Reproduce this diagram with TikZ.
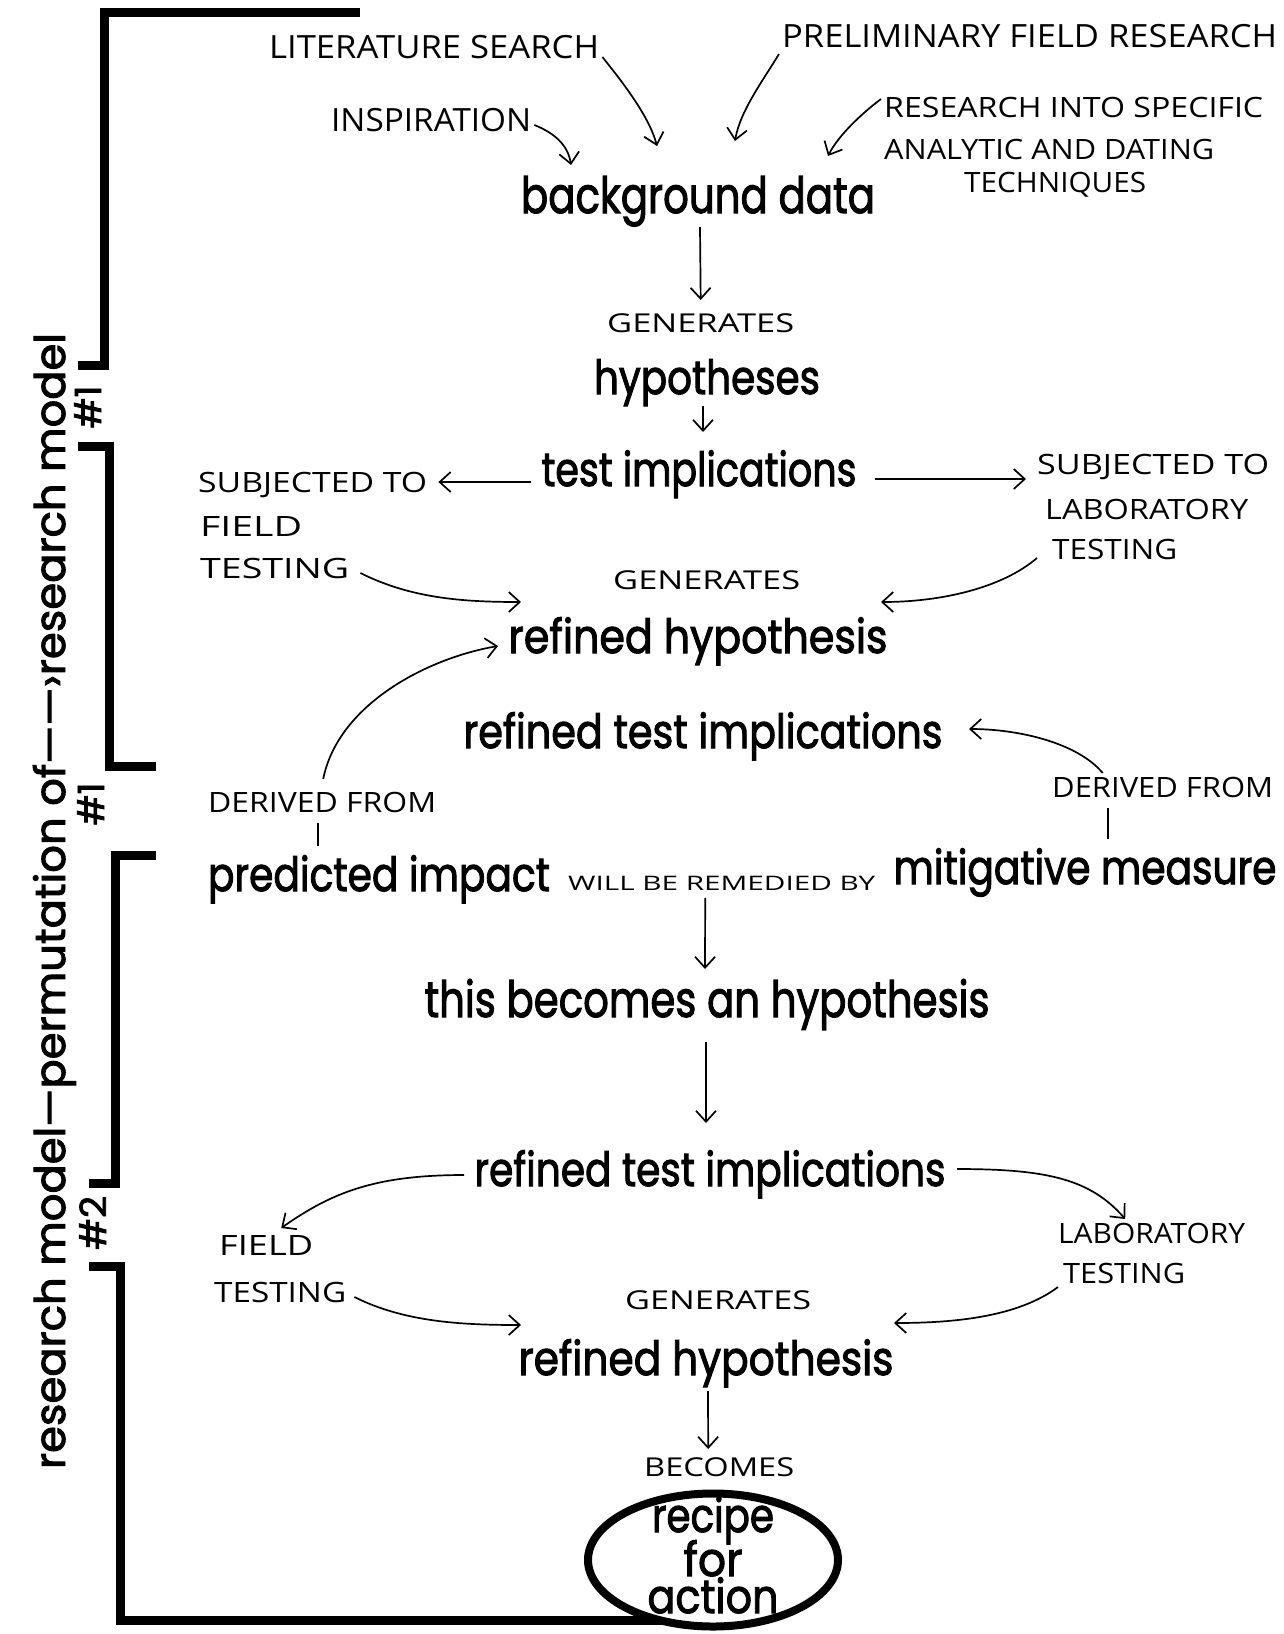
\documentclass[tikz,border=0pt]{standalone}
\usepackage{fontspec}
\usepackage{graphicx}
\usetikzlibrary{arrows.meta,calc,shapes.geometric}
\newfontfamily\mainf{Poppins}[FakeBold=2.2]
\newfontfamily\handf{Open Sans}
\newcommand{\fitw}[2]{\resizebox{#1pt}{\height}{#2}}
\tikzset{
  big/.style={font=\mainf\fontsize{47}{50}\selectfont, inner sep=0pt, anchor=base},
  bigL/.style={font=\mainf\fontsize{50}{52}\selectfont, inner sep=0pt, anchor=base},
  hand/.style={font=\handf\fontsize{28}{30}\selectfont, inner sep=0pt, anchor=west},
  handL/.style={font=\handf\fontsize{32}{34}\selectfont, inner sep=0pt, anchor=west},
  handS/.style={font=\handf\fontsize{26}{28}\selectfont, inner sep=0pt, anchor=west},
  handXS/.style={font=\handf\fontsize{20}{22}\selectfont, inner sep=0pt, anchor=west},
  side/.style={font=\mainf\fontsize{42}{44}\selectfont, inner sep=0pt, anchor=base, rotate=90},
  num/.style={font=\mainf\fontsize{36}{38}\selectfont, inner sep=0pt, anchor=base, rotate=90},
  arr/.style={line width=1.7pt, -{Straight Barb[length=11pt,width=20pt]}},
  tick/.style={line width=1.7pt},
  bracket/.style={line width=9pt, line join=miter, line cap=butt},
}
\begin{document}
\begin{tikzpicture}[x=1pt,y=-1pt]
\fill[white] (0,0) rectangle (1284,1634);
\useasboundingbox (0,0) rectangle (1284,1634);

% brackets
\draw[bracket] (360,12) -- (104,12) -- (104,365) -- (78,365);
\draw[bracket] (78,446) -- (109,446) -- (109,766) -- (156,766);
\draw[bracket] (156,855) -- (115,855) -- (115,1183) -- (89,1183);
\coordinate (recipeEnd) at (713,1620);
\draw[bracket] (89,1266) -- (120,1266) -- (120,1620) -- (recipeEnd);

% side labels
\node[side] (sidelabel) at (65,901) {\fitw{1136}{research model—permutation of——›research model}};
\node[num] (numA) at (101,407) {\fitw{43}{\#1}};
\node[num] (numB) at (104,804) {\fitw{43}{\#1}};
\node[num] (numC) at (106,1223) {\fitw{54}{\#2}};

% main texts
\node[bigL] (bg) at (698,213) {\fitw{354}{background data}};
\node[big] (hyp) at (707,394) {\fitw{226}{hypotheses}};
\node[big] (ti) at (699,486) {\fitw{315}{test implications}};
\node[big] (rh1) at (698,653) {\fitw{379}{refined hypothesis}};
\node[big] (rti1) at (703,748) {\fitw{479}{refined test implications}};
\node[big] (pi) at (379,891) {\fitw{342}{predicted impact}};
\node[big] (mm) at (1085,884) {\fitw{383}{mitigative measure}};
\node[bigL] (this) at (707,1017) {\fitw{565}{this becomes an hypothesis}};
\node[big] (rti2) at (710,1186) {\fitw{471}{refined test implications}};
\node[big] (rh2) at (706,1375) {\fitw{375}{refined hypothesis}};
\node[draw, ellipse, line width=8pt, fill=white, minimum width=250pt, minimum height=133pt,
      inner sep=0pt] (recipe) at (713,1560) {};
\node[big] (recipeA) at (713,1532) {\fitw{122}{recipe}};
\node[big] (recipeB) at (713,1576) {\fitw{59}{for}};
\node[big] (recipeD) at (713,1613) {\fitw{131}{action}};

% hand labels
\node[handL] (lit) at (269,47) {\fitw{330}{LITERATURE SEARCH}};
\node[handL] (prelim) at (782,36) {\fitw{495}{PRELIMINARY FIELD RESEARCH}};
\node[handL] (insp) at (331,120) {\fitw{200}{INSPIRATION}};
\node[hand] (res1) at (884,107) {\fitw{379}{RESEARCH INTO SPECIFIC}};
\node[hand] (res2) at (884,149) {\fitw{330}{ANALYTIC AND DATING}};
\node[hand] (res3) at (964,185) {\fitw{182}{TECHNIQUES}};
\node[handS] (gen1) at (607,323) {\fitw{187}{GENERATES}};
\node[hand] (subjL1) at (198,485) {\fitw{229}{SUBJECTED TO}};
\node[hand] (subjL2) at (200,526) {\fitw{102}{FIELD}};
\node[hand] (subjL3) at (200,568) {\fitw{149}{TESTING}};
\node[hand] (subjR1) at (1037,467) {\fitw{232}{SUBJECTED TO}};
\node[hand] (subjR2) at (1045,509) {\fitw{203}{LABORATORY}};
\node[hand] (subjR3) at (1052,549) {\fitw{125}{TESTING}};
\node[handS] (gen2) at (613,580) {\fitw{187}{GENERATES}};
\node[hand] (derL) at (208,802) {\fitw{228}{DERIVED FROM}};
\node[hand] (derR) at (1052,787) {\fitw{221}{DERIVED FROM}};
\node[handXS] (will) at (568,883) {\fitw{307}{WILL BE REMEDIED BY}};
\node[hand] (fieldB1) at (219,1245) {\fitw{94}{FIELD}};
\node[hand] (fieldB2) at (214,1292) {\fitw{132}{TESTING}};
\node[hand] (labB1) at (1058,1233) {\fitw{187}{LABORATORY}};
\node[hand] (labB2) at (1063,1273) {\fitw{122}{TESTING}};
\node[handS] (gen3) at (625,1300) {\fitw{186}{GENERATES}};
\node[handS] (becomes) at (644,1467) {\fitw{150}{BECOMES}};

% arrow tips near targets
\coordinate (bgA) at (657,146);
\coordinate (bgB) at (735,141);
\coordinate (bgC) at (571,165);
\coordinate (bgD) at (828,156);

% connectors: top
\draw[arr] ($(lit.east)+(3,10)$) .. controls +(20,25) and +(-8,-30) .. (bgA);
\draw[arr] ($(prelim.west)+(-3,18)$) .. controls +(-15,25) and +(5,-30) .. (bgB);
\draw[arr] ($(insp.east)+(3,5)$) .. controls +(20,8) and +(-3,-20) .. (bgC);
\draw[arr] ($(res1.west)+(-3,-8)$) .. controls +(-20,15) and +(10,-20) .. (bgD);

% vertical chain
\draw[arr] ($(bg.base)+(2,14)$) -- ($(gen1.center)+(0,-23)$);
\draw[arr] ($(hyp.base)+(-4,12)$) -- ($(ti.base)+(4,-54)$);
\draw[arr] ($(ti.base)+(-168,-4)$) -- ($(subjL1.east)+(11,-3)$);
\draw[arr] ($(ti.base)+(176,-7)$) -- ($(subjR1.west)+(-11,12)$);
\draw[arr] ($(subjL3.east)+(11,5)$) .. controls +(50,25) and +(-60,0) .. ($(rh1.base)+(-177,-51)$);
\draw[arr] ($(subjR3.west)+(-15,9)$) .. controls +(-35,30) and +(60,0) .. ($(rh1.base)+(183,-51)$);
\draw[arr] ($(derL.center)+(1,-23)$) .. controls +(15,-75) and +(-70,12) .. ($(rh1.base)+(-200,-7)$);
\draw[arr] ($(derR.center)+(-60,-14)$) .. controls +(-25,-30) and +(50,0) .. ($(rti1.base)+(266,-19)$);
\draw[tick] ($(derL.south)+(-4,10)$) -- +(0,23);
\draw[tick] ($(derR.south)+(-55,10)$) -- +(0,31);
\draw[arr] ($(will.center)+(-16.5,15)$) -- ($(this.base)+(-2,-48)$);
\draw[arr] ($(this.base)+(-1,25)$) -- ($(rti2.base)+(-4,-63)$);
\draw[arr] ($(rti2.base)+(-246,-11)$) .. controls +(-90,0) and +(50,-35) .. ($(fieldB1.center)+(15,-17)$);
\draw[arr] ($(rti2.base)+(247,-17)$) .. controls +(90,0) and +(-35,-40) .. ($(labB1.center)+(-26.5,-14)$);
\draw[arr] ($(fieldB2.east)+(8,5)$) .. controls +(50,25) and +(-60,0) .. ($(rh2.base)+(-185,-50)$);
\draw[arr] ($(labB2.west)+(-5,14)$) .. controls +(-40,30) and +(60,0) .. ($(rh2.base)+(188,-52)$);
\draw[arr] ($(rh2.base)+(2,16)$) -- ($(becomes.center)+(-11,-18)$);
\end{tikzpicture}
\end{document}
